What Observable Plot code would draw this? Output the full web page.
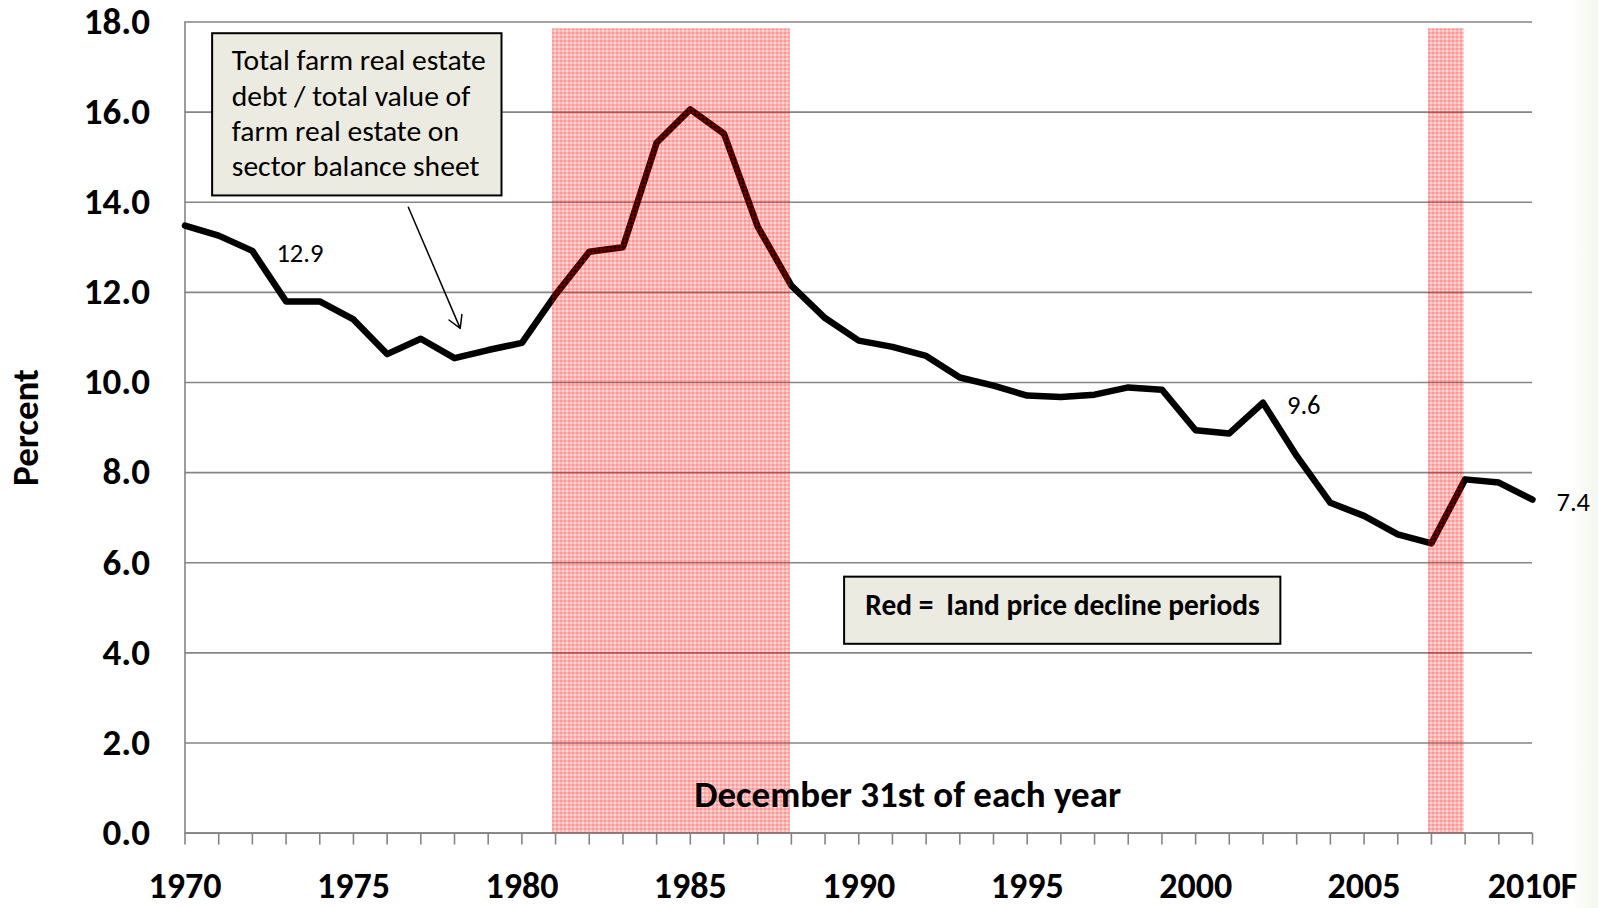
<!DOCTYPE html>
<html>
<head>
<meta charset="utf-8">
<script src="https://cdn.jsdelivr.net/npm/d3@7"></script>
<script src="https://cdn.jsdelivr.net/npm/@observablehq/plot@0.6"></script>
<style>
  html, body { margin: 0; padding: 0; background: linear-gradient(to right, #ffffff 98.4%, #f3f6ee 100%); }
  #chart { width: 1598px; height: 908px; overflow: hidden; }
</style>
</head>
<body>
<div id="chart"></div>
<script>
// ---- data ----
const years = [1970,1971,1972,1973,1974,1975,1976,1977,1978,1979,
               1980,1981,1982,1983,1984,1985,1986,1987,1988,1989,
               1990,1991,1992,1993,1994,1995,1996,1997,1998,1999,
               2000,2001,2002,2003,2004,2005,2006,2007,2008,2009,2010];
const debtRatio = [13.48,13.26,12.92,11.80,11.80,11.40,10.63,10.97,10.54,10.72,
                   10.88,11.95,12.90,13.00,15.32,16.06,15.52,13.46,12.15,11.43,
                   10.93,10.79,10.59,10.11,9.93,9.71,9.68,9.73,9.89,9.84,
                   8.94,8.87,9.55,8.37,7.33,7.04,6.63,6.43,7.85,7.78,7.40];
const declineStart = [1981, 2007];
const declineEnd = [1988, 2008];
const yTickValues = [0,2,4,6,8,10,12,14,16,18];
const xTickValues = [1970,1975,1980,1985,1990,1995,2000,2005,2010];
const xTickLabels = ["1970","1975","1980","1985","1990","1995","2000","2005","2010F"];
const labeledYears = [1972, 2002, 2010];
const labeledTexts = ["12.9", "9.6", "7.4"];

// ---- derived tables ----
const series = years.map((year, i) => ({year, value: debtRatio[i]}));
const periods = declineStart.map((s, i) => ({start: s, end: declineEnd[i]}));
const xLabelMap = new Map(xTickValues.map((v, i) => [v, xTickLabels[i]]));
const pointLabels = labeledYears.map((y, i) => ({year: y, value: debtRatio[years.indexOf(y)], text: labeledTexts[i]}));

const FONT = "Carlito, Calibri, Lato, sans-serif";
const GRID = "#858585";

const chart = Plot.plot({
  width: 1598,
  height: 908,
  marginLeft: 184.5,
  marginRight: 66,
  marginTop: 21.5,
  marginBottom: 75.4,
  x: {type: "linear", domain: [1970, 2010]},
  y: {domain: [0, 18]},
  style: {fontFamily: FONT, background: "transparent", color: "black"},
  marks: [
    Plot.gridY(yTickValues, {stroke: GRID, strokeOpacity: 1, strokeWidth: 1.6}),
    Plot.ruleX([1970], {stroke: GRID, strokeWidth: 1.6}),
    Plot.axisY(yTickValues, {tickSize: 0, tickPadding: 35, tickFormat: d => d.toFixed(1),
      fontSize: 37, fontWeight: "bold", fill: "black", label: null}),
    Plot.axisX(years, {tickSize: 12, stroke: GRID, strokeWidth: 1.6, tickFormat: () => "", label: null}),
    Plot.axisX(xTickValues, {tickSize: 0, tickPadding: 39.5, tickFormat: d => xLabelMap.get(d),
      fontSize: 36, fontWeight: "bold", fill: "black", label: null}),
    Plot.ruleY([0], {stroke: GRID, strokeWidth: 1.6}),
    // annotation box 1
    Plot.rect([0], {x1: () => 1970.82, x2: () => 1979.41, y1: () => 14.14, y2: () => 17.74,
      fill: "#ecebe1", stroke: "black", strokeWidth: 2}),
    Plot.text(["Total farm real estate\ndebt / total value of\nfarm real estate on\nsector balance sheet"],
      {x: () => 1971.39, y: () => 16.0, text: d => d, textAnchor: "start", lineAnchor: "middle",
       fontSize: 29.6, lineHeight: 1.195, fill: "black"}),
    Plot.arrow([0], {x1: () => 1976.63, y1: () => 13.89, x2: () => 1978.17, y2: () => 11.2,
      stroke: "black", strokeWidth: 1.5, headLength: 14, bend: 0}),
    // series
    Plot.line(series, {x: "year", y: "value", stroke: "black", strokeWidth: 6.5, strokeLinejoin: "round"}),
    Plot.text(pointLabels, {x: "year", y: "value", text: "text", textAnchor: "start", dx: 24, dy: 3,
      fontSize: 26.5, fill: "black"}),
    // decline periods shading (drawn over the line)
    Plot.rect(periods, {x1: "start", x2: "end", y1: () => 0, y2: () => 17.85, fill: "url(#redgrid)",
      insetLeft: -3, insetRight: 1}),
    // annotation box 2
    Plot.rect([0], {x1: () => 1989.58, x2: () => 2002.53, y1: () => 4.19, y2: () => 5.68,
      fill: "#ecebe1", stroke: "black", strokeWidth: 2}),
    Plot.text(["Red =  land price decline periods"], {x: () => 1996.05, y: () => 5.05, text: d => d,
      fontSize: 29.4, fontWeight: "bold", fill: "black"}),
    // axis titles
    Plot.text(["December 31st of each year"], {x: () => 1991.45, y: () => 0.84, text: d => d,
      fontSize: 37, fontWeight: "bold", fill: "black"}),
    Plot.text(["Percent"], {frameAnchor: "left", y: () => 9, text: d => d, dx: -159, rotate: -90,
      textAnchor: "middle", fontSize: 37, fontWeight: "bold", fill: "black"})
  ]
});

// gingham-like red pattern for the shaded periods
const svg = d3.select(chart);
const defs = svg.insert("defs", ":first-child");
const pat = defs.append("pattern").attr("id", "redgrid").attr("patternUnits", "userSpaceOnUse")
  .attr("width", 4).attr("height", 4);
pat.append("rect").attr("width", 4).attr("height", 4).attr("fill", "rgba(255,0,0,0.16)");
pat.append("rect").attr("width", 4).attr("height", 2).attr("fill", "rgba(255,0,0,0.16)");
pat.append("rect").attr("width", 2).attr("height", 4).attr("fill", "rgba(255,0,0,0.16)");

document.getElementById("chart").appendChild(chart);
</script>
</body>
</html>
